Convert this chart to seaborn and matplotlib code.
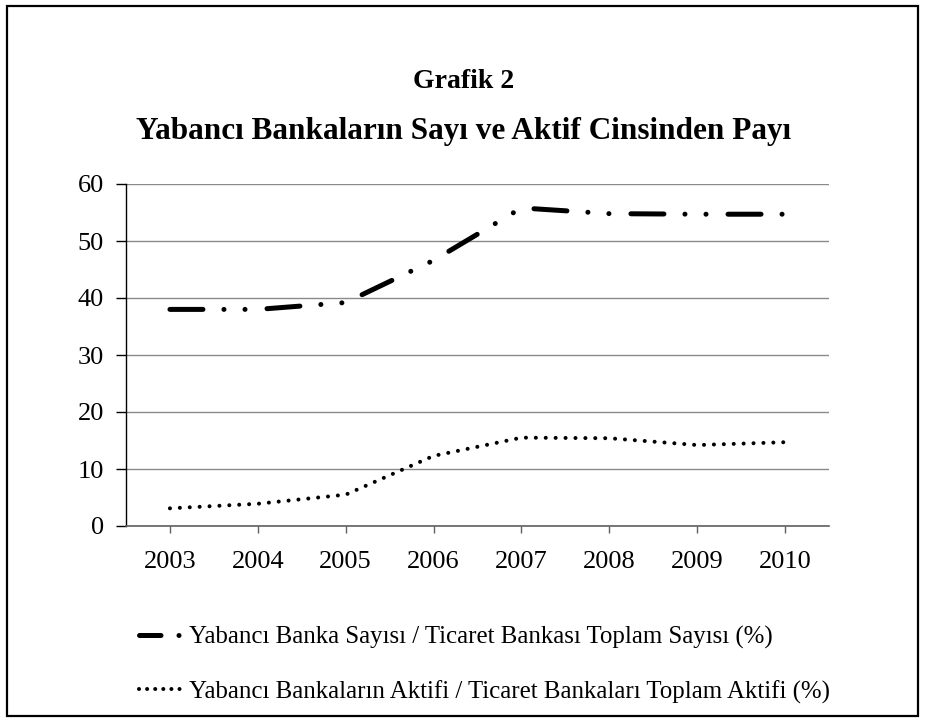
import matplotlib
matplotlib.use('Agg')
import matplotlib.pyplot as plt
from matplotlib.lines import Line2D
from matplotlib.patches import Rectangle
import seaborn as sns
import pandas as pd

sns.set_theme(style="white")
plt.rcParams['font.family'] = ['Liberation Serif', 'DejaVu Serif']
plt.rcParams['text.color'] = 'black'
plt.rcParams['xtick.color'] = 'black'
plt.rcParams['ytick.color'] = 'black'

# data
years = ['2003', '2004', '2005', '2006', '2007', '2008', '2009', '2010']
banka_sayisi = [38.0, 38.0, 39.2, 46.6, 55.8, 54.8, 54.7, 54.7]
aktif_payi = [3.1, 3.9, 5.5, 12.3, 15.5, 15.4, 14.2, 14.7]
label_sayi = 'Yabancı Banka Sayısı / Ticaret Bankası Toplam Sayısı (%)'
label_aktif = 'Yabancı Bankaların Aktifi / Ticaret Bankaları Toplam Aktifi (%)'

df = pd.DataFrame({'yil': years, 'sayi': banka_sayisi, 'aktif': aktif_payi})

fig = plt.figure(figsize=(9.28, 7.22), dpi=100)
ax = fig.add_axes([126 / 928, 1 - 526 / 722, (829 - 126) / 928, (526 - 184) / 722])

sns.lineplot(data=df, x='yil', y='sayi', ax=ax, color='black', lw=3.6,
             linestyle=(0, (6.6, 4.2, 0.01, 4.2, 0.01, 4.4)),
             dash_capstyle='round', sort=False)
sns.lineplot(data=df, x='yil', y='aktif', ax=ax, color='black', lw=2.9,
             linestyle=(0, (0.01, 2.45)), dash_capstyle='round', sort=False)

ax.set_xlim(-0.5, 7.5)
ax.set_ylim(0, 60)
ax.set_yticks(range(0, 61, 10))
ax.set_xlabel('')
ax.set_ylabel('')
ax.yaxis.grid(True, color='#8a8a8a', lw=1.0)
ax.set_axisbelow(True)
for s in ['top', 'right']:
    ax.spines[s].set_visible(False)
ax.spines['left'].set_color('black')
ax.spines['bottom'].set_color('#606060')
ax.spines['left'].set_linewidth(1.0)
ax.spines['bottom'].set_linewidth(1.2)
ax.tick_params(axis='y', direction='out', length=7, width=1, color='black',
               labelsize=19, pad=9, left=True)
ax.tick_params(axis='x', direction='out', length=5, width=1, color='#606060',
               labelsize=19, pad=13, bottom=True)

fig.text(0.5, 1 - 82 / 722, 'Grafik 2', ha='center', va='center',
         fontsize=20, fontweight='bold')
fig.text(0.5, 1 - 132 / 722, 'Yabancı Bankaların Sayı ve Aktif Cinsinden Payı',
         ha='center', va='center', fontsize=22.5, fontweight='bold')

# legend samples are shorter than the plotted pattern, so build them here
handles = [
    Line2D([], [], color='black', lw=3.6, linestyle=(0, (4.3, 3.6, 0.01, 10)),
           dash_capstyle='round'),
    Line2D([], [], color='black', lw=2.9, linestyle=(0, (0.01, 2.0)),
           dash_capstyle='round'),
]
ax.legend(handles, [label_sayi, label_aktif], loc='upper left',
          bbox_to_anchor=(139 / 928, 1 - 626 / 722),
          bbox_transform=fig.transFigure, frameon=False, fontsize=17.9,
          handlelength=1.65, handletextpad=0.35, labelspacing=1.25,
          borderpad=0, borderaxespad=0)

fig.patches.append(Rectangle((7 / 928, 6 / 722), 911 / 928, 710 / 722,
                             transform=fig.transFigure, fill=False,
                             edgecolor='black', lw=1.6))

fig.savefig('out.png', dpi=100, facecolor='white')
